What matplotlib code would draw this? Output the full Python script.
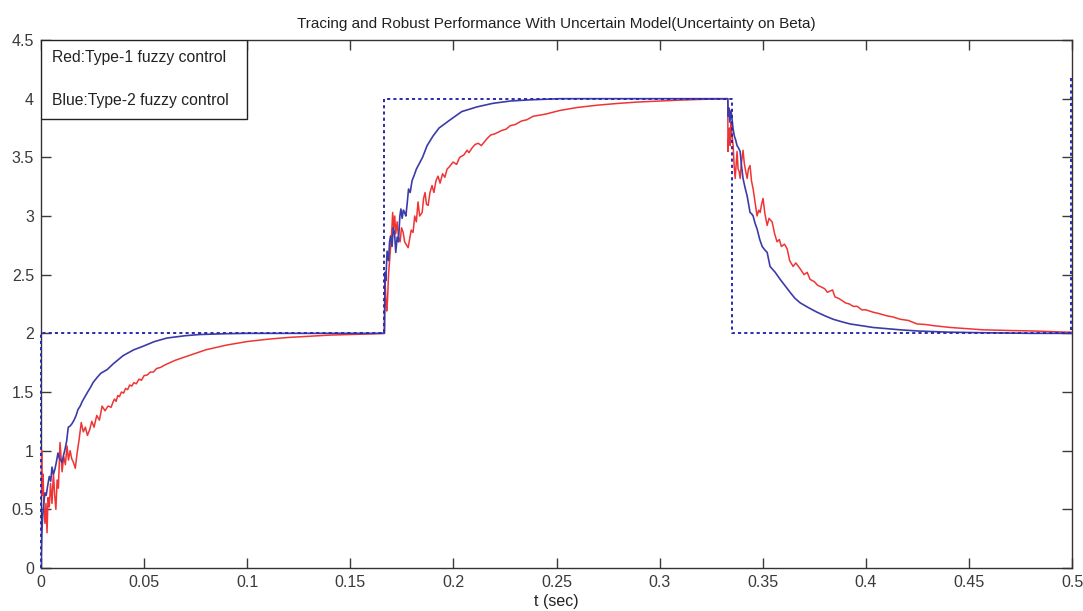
import matplotlib
matplotlib.use("Agg")
import matplotlib.pyplot as plt
from matplotlib.patches import Rectangle

plt.rcParams['font.family'] = ['Liberation Sans', 'DejaVu Sans']

# Reference (desired) trajectory
ref_t = [0.0, 0.0, 0.1665, 0.1665, 0.335, 0.335, 0.4993, 0.4993]
ref_y = [0.0, 2.0, 2.0, 4.0, 4.0, 2.0, 2.0, 4.2]

# Red: Type-1 fuzzy control (three segments)
red_t1 = [0.0, 0.0003, 0.0006, 0.001, 0.0014, 0.0019, 0.0024, 0.0029, 0.0034, 0.004,
          0.0046, 0.0053, 0.006, 0.0066, 0.0072, 0.0078, 0.0084, 0.0092, 0.0102, 0.011,
          0.0118, 0.0126, 0.0133, 0.0141, 0.0149, 0.0157, 0.0166, 0.0175, 0.0185, 0.0195,
          0.0205, 0.0215, 0.0225, 0.0236, 0.0246, 0.0257, 0.027, 0.0283, 0.0296, 0.031,
          0.0325, 0.034, 0.0348, 0.0356, 0.0364, 0.0372, 0.038, 0.039, 0.04, 0.041,
          0.042, 0.043, 0.044, 0.045, 0.0462, 0.0475, 0.0487, 0.05, 0.0515, 0.053,
          0.0545, 0.056, 0.058, 0.06, 0.0625, 0.065, 0.0675, 0.07, 0.075, 0.08,
          0.09, 0.1, 0.11, 0.12, 0.13, 0.14, 0.15, 0.16, 0.1665]
red_y1 = [0.75, 1.0, 0.62, 0.8, 0.5, 0.38, 0.55, 0.3, 0.6, 0.52,
          0.72, 0.55, 0.81, 0.62, 0.5, 0.75, 0.68, 1.07, 0.82, 0.95,
          0.88, 1.04, 0.92, 1.0, 0.93, 0.9, 0.85, 0.98, 1.1, 1.24,
          1.16, 1.2, 1.13, 1.18, 1.25, 1.2, 1.3, 1.26, 1.38, 1.34,
          1.38, 1.37, 1.41, 1.44, 1.42, 1.47, 1.46, 1.5, 1.49, 1.53,
          1.52, 1.56, 1.55, 1.58, 1.57, 1.61, 1.6, 1.64, 1.645, 1.67,
          1.67, 1.7, 1.71, 1.73, 1.75, 1.77, 1.785, 1.8, 1.83, 1.86,
          1.9, 1.93, 1.95, 1.965, 1.975, 1.985, 1.99, 1.995, 2.0]
red_t2 = [0.1668, 0.1672, 0.1676, 0.168, 0.1685, 0.169, 0.1695, 0.17, 0.1705, 0.171,
          0.1715, 0.172, 0.1727, 0.1733, 0.1741, 0.1748, 0.1756, 0.1763, 0.177, 0.178,
          0.1787, 0.1795, 0.1804, 0.1812, 0.182, 0.1828, 0.1836, 0.1848, 0.1855, 0.1862,
          0.1869, 0.1877, 0.1886, 0.1896, 0.1905, 0.1915, 0.1925, 0.1935, 0.1947, 0.1958,
          0.1969, 0.198, 0.1998, 0.2015, 0.203, 0.205, 0.2066, 0.2075, 0.209, 0.2105,
          0.212, 0.2135, 0.2163, 0.218, 0.22, 0.2235, 0.2255, 0.2275, 0.23, 0.233,
          0.2355, 0.2386, 0.242, 0.245, 0.2517, 0.26, 0.27, 0.28, 0.29, 0.3,
          0.31, 0.32, 0.333]
red_y2 = [2.46, 2.3, 2.19, 2.28, 2.5, 2.62, 2.74, 2.85, 3.03, 2.9,
          3.0, 2.85, 2.95, 2.82, 2.78, 2.9, 2.86, 2.78, 2.76, 2.73,
          2.8, 2.88, 2.86, 3.0, 2.95, 3.12, 3.0, 3.03, 3.15, 3.2,
          3.1, 3.09, 3.2, 3.26, 3.2, 3.3, 3.34, 3.28, 3.36, 3.33,
          3.4, 3.42, 3.46, 3.44, 3.5, 3.52, 3.56, 3.54, 3.58, 3.61,
          3.62, 3.6, 3.66, 3.69, 3.7, 3.73, 3.74, 3.77, 3.78, 3.81,
          3.82, 3.85, 3.86, 3.87, 3.9, 3.925, 3.945, 3.96, 3.972, 3.98,
          3.988, 3.994, 4.0]
red_t3 = [0.3331, 0.3334, 0.3338, 0.3342, 0.3346, 0.335, 0.3356, 0.3361, 0.3366, 0.3371,
          0.3375, 0.338, 0.3385, 0.339, 0.3396, 0.3404, 0.341, 0.3417, 0.3424, 0.343,
          0.3438, 0.3445, 0.3453, 0.3462, 0.3472, 0.348, 0.3487, 0.3494, 0.3501, 0.351,
          0.3521, 0.353, 0.3545, 0.3557, 0.3569, 0.358, 0.359, 0.3605, 0.3618, 0.363,
          0.3647, 0.366, 0.3681, 0.37, 0.3715, 0.3729, 0.375, 0.3765, 0.3778, 0.38,
          0.3813, 0.3826, 0.3838, 0.385, 0.3865, 0.3875, 0.39, 0.392, 0.3938, 0.3958,
          0.398, 0.4, 0.4035, 0.406, 0.41, 0.413, 0.4166, 0.4205, 0.4248, 0.429,
          0.433, 0.4408, 0.45, 0.4568, 0.47, 0.4811, 0.4976, 0.4995]
red_y3 = [3.55, 3.65, 3.75, 3.6, 3.8, 3.7, 3.6, 3.42, 3.32, 3.45,
          3.55, 3.4, 3.38, 3.32, 3.45, 3.56, 3.45, 3.38, 3.32, 3.4,
          3.43, 3.3, 3.23, 3.12, 3.0, 3.05, 3.03, 3.1, 3.15, 3.02,
          2.92, 2.98, 2.95, 2.85, 2.78, 2.8, 2.74, 2.76, 2.72, 2.62,
          2.57, 2.6, 2.55, 2.5, 2.52, 2.46, 2.44, 2.41, 2.4, 2.38,
          2.35, 2.36, 2.37, 2.31, 2.3, 2.29, 2.26, 2.25, 2.23, 2.23,
          2.2, 2.2, 2.18, 2.17, 2.15, 2.14, 2.12, 2.11, 2.08, 2.075,
          2.065, 2.05, 2.038, 2.03, 2.024, 2.02, 2.01, 2.01]

# Blue: Type-2 fuzzy control (three segments)
blue_t1 = [0.0, 0.0004, 0.0008, 0.0013, 0.0019, 0.0025, 0.0032, 0.004, 0.0047, 0.0053,
           0.006, 0.0067, 0.0074, 0.0082, 0.009, 0.0096, 0.0102, 0.0109, 0.0116, 0.0124,
           0.0132, 0.0141, 0.015, 0.016, 0.017, 0.0179, 0.019, 0.02, 0.0213, 0.0226,
           0.024, 0.0252, 0.027, 0.029, 0.032, 0.035, 0.0398, 0.045, 0.0495, 0.055,
           0.0611, 0.07, 0.0771, 0.09, 0.1, 0.12, 0.14, 0.1665]
blue_y1 = [0.0, 0.3, 0.45, 0.55, 0.64, 0.62, 0.7, 0.78, 0.74, 0.86,
           0.8, 0.84, 0.9, 0.98, 0.93, 0.92, 0.9, 0.96, 1.01, 1.08,
           1.2, 1.21, 1.23, 1.26, 1.3, 1.35, 1.38, 1.42, 1.46, 1.5,
           1.54, 1.58, 1.62, 1.66, 1.69, 1.74, 1.81, 1.86, 1.89, 1.93,
           1.96, 1.98, 1.99, 1.997, 2.0, 2.0, 2.0, 2.0]
blue_t2 = [0.1668, 0.1672, 0.1678, 0.1685, 0.169, 0.1695, 0.1702, 0.1708, 0.1714, 0.172,
           0.1727, 0.1733, 0.174, 0.1745, 0.1751, 0.1757, 0.1763, 0.1769, 0.1775, 0.1782,
           0.179, 0.1799, 0.181, 0.182, 0.1835, 0.185, 0.1872, 0.19, 0.193, 0.1984,
           0.204, 0.2114, 0.219, 0.2275, 0.237, 0.2517, 0.265, 0.28, 0.3, 0.32, 0.333]
blue_y2 = [2.52, 2.45, 2.7, 2.62, 2.78, 2.83, 2.74, 2.9, 2.86, 2.69,
           2.82, 2.78, 3.0, 3.06, 2.98, 3.05, 3.03, 3.0, 3.1, 3.23,
           3.2, 3.3, 3.35, 3.4, 3.45, 3.5, 3.6, 3.68, 3.75, 3.82,
           3.89, 3.93, 3.96, 3.98, 3.99, 4.0, 4.0, 4.0, 4.0, 4.0, 4.0]
blue_t3 = [0.3332, 0.3336, 0.334, 0.3346, 0.3351, 0.3356, 0.3362, 0.3368, 0.3375, 0.3382,
           0.339, 0.3397, 0.3404, 0.3414, 0.3424, 0.3431, 0.3438, 0.3445, 0.3453, 0.3462,
           0.3472, 0.3485, 0.3497, 0.351, 0.3521, 0.3535, 0.356, 0.3584, 0.361, 0.3632,
           0.3655, 0.3681, 0.372, 0.3763, 0.38, 0.3841, 0.388, 0.3923, 0.398, 0.4035,
           0.41, 0.4166, 0.425, 0.44, 0.457, 0.48, 0.4995]
blue_y3 = [3.85, 3.92, 3.8, 3.9, 3.82, 3.74, 3.68, 3.65, 3.6, 3.58,
           3.55, 3.42, 3.32, 3.24, 3.17, 3.1, 3.03, 3.02, 3.0, 2.94,
           2.89, 2.8, 2.74, 2.71, 2.69, 2.57, 2.52, 2.46, 2.4, 2.35,
           2.3, 2.26, 2.22, 2.18, 2.15, 2.12, 2.1, 2.08, 2.065, 2.05,
           2.04, 2.03, 2.02, 2.01, 2.005, 2.0, 2.0]

x_ticks = [0, 0.05, 0.1, 0.15, 0.2, 0.25, 0.3, 0.35, 0.4, 0.45, 0.5]
x_ticklabels = ['0', '0.05', '0.1', '0.15', '0.2', '0.25', '0.3', '0.35', '0.4', '0.45', '0.5']
y_ticks = [0, 0.5, 1, 1.5, 2, 2.5, 3, 3.5, 4, 4.5]
y_ticklabels = ['0', '0.5', '1', '1.5', '2', '2.5', '3', '3.5', '4', '4.5']

red_t = red_t1 + red_t2 + red_t3
red_y = red_y1 + red_y2 + red_y3
blue_t = blue_t1 + blue_t2 + blue_t3
blue_y = blue_y1 + blue_y2 + blue_y3

fig = plt.figure(figsize=(10.83, 6.11), dpi=100)
ax = fig.add_axes([0.0379, 0.0704, 0.9521, 0.8641])

ax.plot(red_t, red_y, color='#f03434', lw=1.1, zorder=3)
ax.plot(blue_t, blue_y, color='#3c3ca8', lw=1.2, zorder=4)
ax.plot(ref_t, ref_y, color='#2a2ab0', lw=1.4, linestyle=(0, (1.6, 1.6)), zorder=5, clip_on=False)

ax.set_xlim(0, 0.5)
ax.set_ylim(0, 4.5)
ax.set_xticks(x_ticks)
ax.set_xticklabels(x_ticklabels)
ax.set_yticks(y_ticks)
ax.set_yticklabels(y_ticklabels)
ax.tick_params(direction='in', top=True, right=True, length=7, width=1,
               labelsize=11.5, colors='#3a3a3a', pad=5)
ax.tick_params(axis='x', pad=5)
for s in ax.spines.values():
    s.set_linewidth(1.0)
    s.set_color('#333333')

ax.set_title('Tracing and Robust Performance With Uncertain Model(Uncertainty on Beta)',
             fontsize=11, color='#222222', pad=9)
ax.set_xlabel('t (sec)', fontsize=11.5, color='#222222', labelpad=3)

# legend box
ax.add_patch(Rectangle((0, 0.85), 0.2, 0.15, transform=ax.transAxes, fill=True,
                       facecolor='white', edgecolor='#222222', lw=1.0, zorder=6))
ax.text(0.0107, 0.966, 'Red:Type-1 fuzzy control', transform=ax.transAxes,
        fontsize=11.3, va='center', ha='left', color='#222222', zorder=7)
ax.text(0.0107, 0.886, 'Blue:Type-2 fuzzy control', transform=ax.transAxes,
        fontsize=11.3, va='center', ha='left', color='#222222', zorder=7)

fig.savefig('out.png', dpi=100)
